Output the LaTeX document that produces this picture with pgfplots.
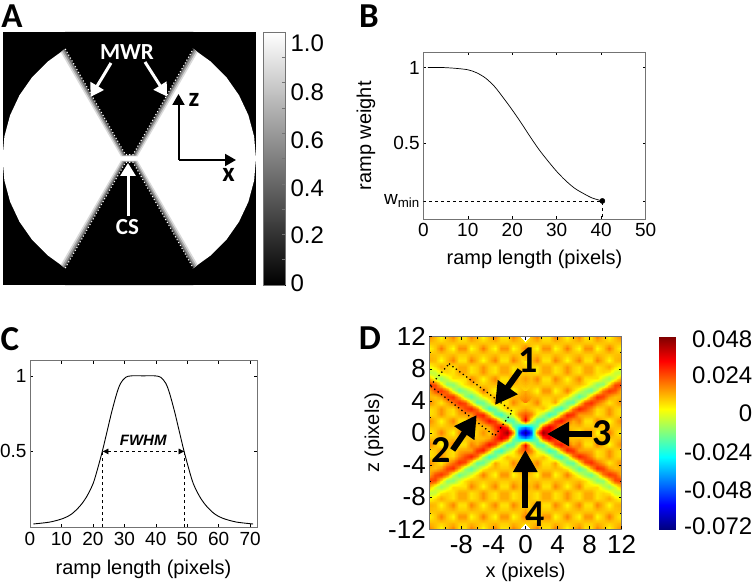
\documentclass[border=0pt]{standalone}
\usepackage{fontspec}
\setmainfont{Liberation Sans}
\newfontfamily\calb{Carlito}
\usepackage{pgfplots}
\usepackage{pgfplotstable}
\pgfplotsset{compat=1.18}
\usepgfplotslibrary{patchplots}
\usetikzlibrary{arrows.meta}
\newcommand{\fs}[1]{\fontsize{#1}{#1}\selectfont}
\definecolor{frame}{gray}{0.45}
\pgfplotsset{
  panel/.style={scale only axis, axis line style={frame,line width=0.8pt},
    tick style={black,line width=0.5pt}, major tick length=3pt,
    xtick pos=both, ytick pos=both, tick align=inside,
    tick label style={font=\fs{19}}, label style={font=\fs{20}}},
}
\pgfplotstableread{
v
-72
-50
20
46
34
20
9
16
9
3
16
16
3
9
19
9
3
-38
-28
-14
24
37
27
14
10
10
11
9
9
11
10
9
10
11
36
3
-18
-20
2
26
33
22
13
18
6
6
18
11
3
11
18
24
18
3
-8
-23
-15
11
31
28
14
14
13
6
9
16
9
6
13
9
6
11
3
-15
-22
-6
19
31
25
17
7
9
16
9
6
6
11
18
6
6
14
-2
-16
-17
4
25
29
20
13
5
11
18
19
13
11
9
9
11
10
4
-7
-18
-9
12
29
26
15
10
11
13
9
3
16
16
3
9
19
8
-1
-10
-16
-2
19
28
24
12
8
10
11
9
9
11
10
9
10
11
7
-1
-12
-11
7
25
27
15
11
18
6
6
18
11
3
11
18
6
6
7
-3
-10
-1
13
9
9
6
13
13
6
9
16
9
6
13
13
6
8
5
-4
-6
13
9
6
13
13
6
9
16
9
6
13
13
6
9
14
7
2
3
11
18
6
6
18
11
3
11
18
6
6
18
11
3
11
13
9
10
11
9
9
11
10
9
10
11
9
9
11
10
9
10
11
19
9
3
16
16
3
9
19
9
3
16
16
3
9
19
9
3
9
10
11
9
9
11
10
9
10
11
9
9
11
10
9
10
11
3
11
18
6
6
18
11
3
11
18
6
6
18
11
3
11
18
}\dmat
\begin{document}
\begin{tikzpicture}
\useasboundingbox (0,0) rectangle (754pt,582pt);
% ---------- panel A
\begin{axis}[scale only axis, at={(2.5pt,297pt)}, anchor=south west, width=253.5pt, height=253pt,
  xmin=-1, xmax=1, ymin=-1, ymax=1, xtick=\empty, ytick=\empty, axis line style={draw=none},
  axis background/.style={fill=black}, clip=true]
\addplot[fill=white,draw=none] coordinates {(.505,.866)(.643,.766)(.766,.643)(.866,.5)(.94,.342)(.985,.174)(1,0)(.985,-.174)(.94,-.342)(.866,-.5)(.766,-.643)(.643,-.766)(.505,-.866)(-.505,-.866)(-.643,-.766)(-.766,-.643)(-.866,-.5)(-.94,-.342)(-.985,-.174)(-1,0)(-.985,.174)(-.94,.342)(-.866,.5)(-.766,.643)(-.643,.766)(-.505,.866)} -- cycle;
% ramp, top wedge
\addplot[fill=black!15,draw=none] coordinates {(-.54,.84)(-.505,.866)(.505,.866)(.54,.84)(.065,.016)(-.065,.016)} -- cycle;
\addplot[fill=black!35,draw=none] coordinates {(-.53,.85)(-.505,.866)(.505,.866)(.53,.85)(.054,.02)(-.054,.02)} -- cycle;
\addplot[fill=black!55,draw=none] coordinates {(-.52,.86)(-.505,.866)(.505,.866)(.52,.86)(.045,.024)(-.045,.024)} -- cycle;
\addplot[fill=black!78,draw=none] coordinates {(-.512,.866)(.512,.866)(.037,.028)(-.037,.028)} -- cycle;
\addplot[fill=black,draw=none] coordinates {(-.505,.866)(-.505,1)(.505,1)(.505,.866)(.03,.03)(-.03,.03)} -- cycle;
% ramp, bottom wedge
\addplot[fill=black!15,draw=none] coordinates {(-.54,-.84)(-.505,-.866)(.505,-.866)(.54,-.84)(.065,-.016)(-.065,-.016)} -- cycle;
\addplot[fill=black!35,draw=none] coordinates {(-.53,-.85)(-.505,-.866)(.505,-.866)(.53,-.85)(.054,-.02)(-.054,-.02)} -- cycle;
\addplot[fill=black!55,draw=none] coordinates {(-.52,-.86)(-.505,-.866)(.505,-.866)(.52,-.86)(.045,-.024)(-.045,-.024)} -- cycle;
\addplot[fill=black!78,draw=none] coordinates {(-.512,-.866)(.512,-.866)(.037,-.028)(-.037,-.028)} -- cycle;
\addplot[fill=black,draw=none] coordinates {(-.505,-.866)(-.505,-1)(.505,-1)(.505,-.866)(.03,-.03)(-.03,-.03)} -- cycle;
% dotted edges
\addplot[white,line width=1.1pt,dash pattern=on 1.1pt off 2.2pt] coordinates {(-.505,.866)(-.03,.03)(.03,.03)(.505,.866)};
\addplot[white,line width=1.1pt,dash pattern=on 1.1pt off 2.2pt] coordinates {(-.505,-.866)(-.03,-.03)(.03,-.03)(.505,-.866)};
\end{axis}
% colorbar A
\begin{axis}[scale only axis, at={(263pt,297pt)}, anchor=south west, width=22pt, height=253pt,
  view={0}{90}, xmin=0, xmax=1, ymin=0, ymax=1, xtick=\empty, ytick pos=right,
  ytick={.008,.198,.383,.573,.763,.957}, yticklabels={0,0.2,0.4,0.6,0.8,1.0},
  minor ytick={.1,.2,.3,.4,.5,.6,.7,.8,.9},
  major tick length=0pt, minor tick length=3pt, minor tick style={frame,line width=.5pt},
  tick align=inside,
  axis line style={frame,line width=.8pt},
  yticklabel style={font=\fs{24},anchor=west,xshift=2pt},
  colormap/blackwhite, point meta min=0, point meta max=1]
\addplot3[surf,shader=interp,point meta=y,mesh/rows=2] coordinates {(0,0,0)(1,0,0)(0,1,0)(1,1,0)};
\end{axis}
% ---------- panel B
\begin{axis}[panel, at={(423.3pt,362.7pt)}, anchor=south west, width=222.4pt, height=167pt,
  xmin=0, xmax=50, ymin=0, ymax=1.1, xtick={0,10,20,30,40,50},
  ytick={.121,.5,1}, yticklabels={w\textsubscript{min},0.5,1},
  xticklabels={0,10,20,30,40,50},
  xlabel={ramp length (pixels)}, ylabel={ramp weight},
  xlabel style={yshift=-7pt}, ylabel style={yshift=2pt}]
\addplot[black,line width=.7pt,smooth] coordinates {(1,1)(4,1)(7,.995)(10,.985)(12,.965)(14,.93)(16,.875)(18,.80)(20,.72)(22,.635)(24,.545)(26,.46)(28,.385)(30,.315)(32,.255)(34,.205)(36,.17)(38,.14)(40.25,.121)};
\addplot[black,line width=.6pt,dashed] coordinates {(0,.121)(40.25,.121)(40.25,0)};
\addplot[only marks,mark=*,mark size=2.6pt,black] coordinates {(40.25,.121)};
\end{axis}
% ---------- panel C
\begin{axis}[panel, at={(30pt,55pt)}, anchor=south west, width=227pt, height=166.3pt,
  xmin=0, xmax=72.2, ymin=0, ymax=1.1, xtick={0,10,20,30,40,50,60,70},
  xticklabels={0,10,20,30,40,50,60,70},
  ytick={.5,1}, yticklabels={0.5,1}, xlabel={ramp length (pixels)},
  xticklabel style={yshift=-2pt},
  xlabel style={yshift=-7pt}]
\addplot[black,line width=.9pt,smooth] coordinates {(1.06,.02)(6.4,.033)(10.6,.057)(13.25,.086)(15.9,.139)(18,.2)(20.1,.289)(21.7,.4)(23.1,.509)(24.6,.64)(26,.762)(27.6,.884)(28.8,.95)(30.4,.99)(32.3,1)(36,1)(39.7,1)(41.6,.99)(43.2,.95)(44.4,.884)(46,.762)(47.4,.64)(48.9,.509)(50.3,.4)(51.9,.289)(54,.2)(56.1,.139)(58.75,.086)(61.4,.057)(65.6,.033)(70.94,.02)};
\addplot[black,line width=.6pt,dashed] coordinates {(23,0)(23,.5)};
\addplot[black,line width=.6pt,dashed] coordinates {(49.2,0)(49.2,.5)};
\addplot[black,line width=.6pt,dashed,{Latex[length=6pt,width=6pt]}-{Latex[length=6pt,width=6pt]}] coordinates {(23,.5)(49.2,.5)};
\node[font=\fs{15}\bfseries\itshape] at (axis cs:36,.575) {FWHM};
\end{axis}
% ---------- panel D
\begin{axis}[panel, at={(429.3pt,53pt)}, anchor=south west, width=192.4pt, height=192.3pt,
  view={0}{90}, xmin=-12, xmax=12, ymin=-12, ymax=12,
  xtick={-8,-4,0,4,8,12}, xticklabels={-8,-4,0,4,8,12},
  ytick={-12,-8,-4,0,4,8,12}, yticklabels={-12,-8,-4,0,4,8,12},
  minor xtick={-12,-10,-6,-2,2,6,10}, minor ytick={-10,-6,-2,2,6,10}, minor tick length=2pt,
  tick label style={font=\fs{26}}, xlabel={x (pixels)}, ylabel={z (pixels)},
  xticklabel style={yshift=-3pt},
  xlabel style={yshift=-2pt}, ylabel style={yshift=-2pt},
  colormap/jet, point meta min=-72, point meta max=48, axis on top]
\addplot3[surf,shader=interp,patch type=bilinear,mesh/cols=17] table[x index=0, y index=0, x expr={mod(\coordindex,17)*0.75}, y expr={floor(\coordindex/17)*0.75}, z=v] {\dmat};
\addplot3[surf,shader=interp,patch type=bilinear,mesh/cols=17] table[x index=0, y index=0, x expr={-mod(\coordindex,17)*0.75}, y expr={floor(\coordindex/17)*0.75}, z=v] {\dmat};
\addplot3[surf,shader=interp,patch type=bilinear,mesh/cols=17] table[x index=0, y index=0, x expr={mod(\coordindex,17)*0.75}, y expr={-floor(\coordindex/17)*0.75}, z=v] {\dmat};
\addplot3[surf,shader=interp,patch type=bilinear,mesh/cols=17] table[x index=0, y index=0, x expr={-mod(\coordindex,17)*0.75}, y expr={-floor(\coordindex/17)*0.75}, z=v] {\dmat};
\addplot3[black,line width=1.3pt,dash pattern=on 1.3pt off 3pt] coordinates {(-9.54,8.63,60)(-1.63,2.67,60)(-3.83,-.38,60)(-11.88,5.88,60)};
\addplot3[black,line width=1.3pt,dash pattern=on 1.3pt off 3pt] coordinates {(-11.88,5.88,60)(-9.54,8.63,60)};
\end{axis}
% colorbar D
\begin{axis}[scale only axis, at={(658.3pt,53pt)}, anchor=south west, width=18.4pt, height=192.3pt,
  view={0}{90}, xmin=0, xmax=1, ymin=-.072, ymax=.048, xtick=\empty, ytick pos=right,
  scaled y ticks=false,
  ytick={-.0705,-.048,-.024,0,.024,.0465}, yticklabels={-0.072,-0.048,-0.024,0,0.024,0.048},
  major tick length=0pt, axis line style={draw=none},
  yticklabel style={font=\fs{24},anchor=west,text width=72pt,align=right},
  colormap/jet, point meta min=-.072, point meta max=.048]
\addplot3[surf,shader=interp,point meta=y,mesh/rows=2] coordinates {(0,-.072,0)(1,-.072,0)(0,.048,0)(1,.048,0)};
\end{axis}
% ---------- annotations (reference pixels, y down)
\begin{scope}[x=1pt,y=-1pt,yshift=582pt]
\tikzset{wa/.style={white,line width=3pt,-{Triangle[length=13pt,width=15pt]}},
 ba/.style={black,line width=2pt,-{Triangle[length=11pt,width=12pt]}},
 bb/.style={black,line width=6pt,-{Triangle[length=22pt,width=23pt]}}}
\node[font=\calb\bfseries\fs{35},inner sep=0pt] at (12,16) {A};
\node[font=\calb\bfseries\fs{35},inner sep=0pt] at (369,16) {B};
\node[font=\calb\bfseries\fs{35},inner sep=0pt] at (10,339) {C};
\node[font=\calb\bfseries\fs{35},inner sep=0pt] at (370,338) {D};
\node[font=\calb\bfseries\fs{23},white] at (127,52) {MWR};
\node[font=\calb\bfseries\fs{23},white] at (127.5,227) {CS};
\draw[wa] (111,63) -- (90.5,97);
\draw[wa] (145,62) -- (167,96.5);
\draw[wa] (128,216) -- (128,163);
\draw[ba] (178.5,160) -- (178.5,94);
\draw[ba] (178.5,160) -- (236,160);
\node[font=\calb\bfseries\fs{27}] at (194,100) {z};
\node[font=\calb\bfseries\fs{27}] at (228.5,175) {x};
\draw[bb] (520,370) -- (495,405);
\draw[bb] (452.7,450) -- (476.7,415);
\draw[bb] (591.7,434) -- (547,434);
\draw[bb] (525.3,508) -- (525.3,450);
\node[font=\calb\bfseries\fs{38}] at (528,360) {1};
\node[font=\calb\bfseries\fs{38}] at (440.7,450) {2};
\node[font=\calb\bfseries\fs{38}] at (601.7,433) {3};
\node[font=\calb\bfseries\fs{38}] at (535,514) {4};
\end{scope}
\end{tikzpicture}
\end{document}
